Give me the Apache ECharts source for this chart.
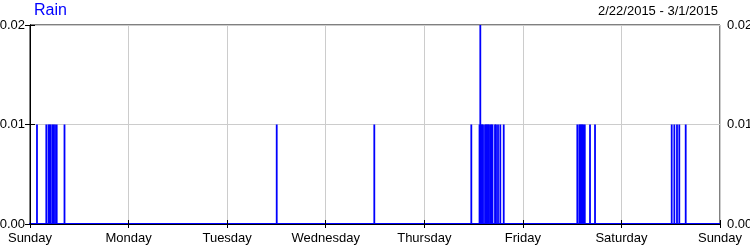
<!DOCTYPE html>
<html><head><meta charset="utf-8">
<script src="https://cdn.jsdelivr.net/npm/echarts@6/dist/echarts.min.js"></script>
<style>html,body{margin:0;padding:0;background:#fff}#c{width:750px;height:250px}</style>
</head><body><div id="c"></div>
<script>
// x labels (one per day, hours since Sunday 00:00)
const dayLabels = ['Sunday','Monday','Tuesday','Wednesday','Thursday','Friday','Saturday','Sunday'];
const yTicks = [0, 0.01, 0.02];
// rain events: hour since start of week, inches
const rainHours = [1.70, 3.97, 4.50, 4.75, 5.04, 5.48, 5.72, 6.09, 6.50, 8.40,
  60.07, 83.83,
  107.45, 109.45, 109.64, 109.81, 110.06, 110.30, 110.79, 111.03, 111.27, 111.52, 111.76, 112.13, 112.37, 112.61, 113.22, 113.46, 113.95, 114.51, 115.34,
  133.26, 133.74, 133.99, 134.23, 134.47, 134.72, 135.08, 136.35, 137.57,
  156.24, 156.88, 157.53, 158.09, 159.65];
const rainValues = [0.01, 0.01, 0.01, 0.01, 0.01, 0.01, 0.01, 0.01, 0.01, 0.01,
  0.01, 0.01,
  0.01, 0.01, 0.02, 0.01, 0.01, 0.01, 0.01, 0.01, 0.01, 0.01, 0.01, 0.01, 0.01, 0.01, 0.01, 0.01, 0.01, 0.01, 0.01,
  0.01, 0.01, 0.01, 0.01, 0.01, 0.01, 0.01, 0.01, 0.01,
  0.01, 0.01, 0.01, 0.01, 0.01];
const titleText = 'Rain';
const rangeText = '2/22/2015 - 3/1/2015';

const FONT = 'Liberation Sans';
const chart = echarts.init(document.getElementById('c'), null, {renderer:'canvas'});
const data = rainHours.map((h,i)=>[h, rainValues[i]]);
const yAxisBase = (pos)=>({
  type:'value', position:pos, min:0, max:0.02, interval:0.01,
  axisLine:{show:true, lineStyle:{color:'#000', width:1}},
  axisTick:{show:true, inside:true, length:5, lineStyle:{color:'#000'}},
  axisLabel:{show:true, color:'#000', fontFamily:FONT, fontSize:13, margin:pos==='left'?5:7,
    formatter:(v)=>v.toFixed(2)},
  splitLine:{show:pos==='left', lineStyle:{color:'#cccccc', width:1}}
});
chart.setOption({
  animation:false,
  backgroundColor:'#fff',
  title:[
    {text:titleText, left:34, top:3, padding:0, textStyle:{color:'#0000ff', fontFamily:FONT, fontSize:16, fontWeight:'normal'}},
    {text:rangeText, right:32, top:5, padding:0, textStyle:{color:'#000', fontFamily:FONT, fontSize:13, fontWeight:'normal'}}
  ],
  grid:{left:30, right:30, top:25, bottom:26, show:true, borderColor:'#000', borderWidth:1, backgroundColor:'transparent',
    containLabel:false, outerBoundsMode:'none'},
  xAxis:[{
    type:'value', min:0, max:168, interval:24, position:'bottom',
    axisLine:{show:true, onZero:false, lineStyle:{color:'#0000ff', width:2}},
    axisTick:{show:true, inside:true, length:4, lineStyle:{color:'#000'}},
    axisLabel:{show:true, color:'#000', fontFamily:FONT, fontSize:13, margin:8,
      formatter:(v)=>dayLabels[Math.round(v/24)]},
    splitLine:{show:true, lineStyle:{color:'#cccccc', width:1}}
  },{
    type:'value', min:0, max:168, interval:24, position:'top',
    axisLine:{show:true, lineStyle:{color:'#000', width:1}},
    axisTick:{show:true, inside:true, length:4, lineStyle:{color:'#000'}},
    axisLabel:{show:false}, splitLine:{show:false}
  }],
  yAxis:[yAxisBase('left'), yAxisBase('right')],
  series:[{
    type:'bar', xAxisIndex:0, yAxisIndex:0, data:data,
    barWidth:1.8, barGap:'-100%',
    itemStyle:{color:'#0000ff'}, large:false
  }]
});
</script></body></html>
